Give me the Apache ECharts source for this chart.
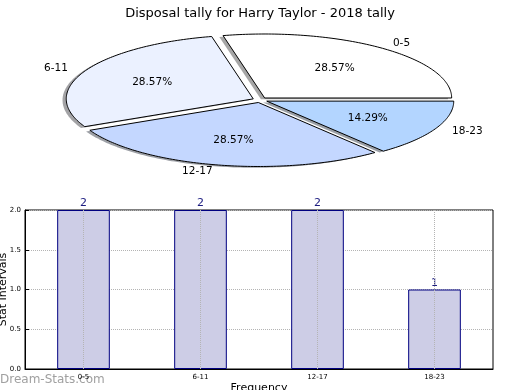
<!DOCTYPE html>
<html>
<head>
<meta charset="utf-8">
<script src="https://cdn.jsdelivr.net/npm/echarts@6/dist/echarts.min.js"></script>
<style>
html,body{margin:0;padding:0;background:#fff;}
#c{width:520px;height:390px;}
</style>
</head>
<body>
<div id="c"></div>
<script>
const titleText = 'Disposal tally for Harry Taylor - 2018 tally';
const categories = ['0-5', '6-11', '12-17', '18-23'];
const pieValues = [2, 2, 2, 1];
const pieColors = ['#ffffff', '#ebf1ff', '#c4d7ff', '#b3d5ff'];
const barValues = [2, 2, 2, 1];
const yAxisName = 'Stat Intervals';
const xAxisName = 'Frequency';
const watermark = 'Dream-Stats.com';

const FONT = 'DejaVu Sans';
const explode = 0.04;
const total = pieValues.reduce((a, b) => a + b, 0);
const startAngles = [];
const endAngles = [];
let acc = 0;
pieValues.forEach(v => {
  startAngles.push(acc / total * 360);
  acc += v;
  endAngles.push(acc / total * 360);
});

function shade(hex) {
  const r = parseInt(hex.slice(1, 3), 16), g = parseInt(hex.slice(3, 5), 16), b = parseInt(hex.slice(5, 7), 16);
  return 'rgba(' + Math.round(r * 0.3) + ',' + Math.round(g * 0.3) + ',' + Math.round(b * 0.3) + ',0.5)';
}

function renderWedge(params, api) {
  const i = params.dataIndex;
  const t1 = startAngles[i], t2 = endAngles[i];
  const mid = (t1 + t2) / 2 * Math.PI / 180;
  const ex = explode * Math.cos(mid), ey = explode * Math.sin(mid);
  const pts = [[ex, ey]];
  const steps = Math.max(4, Math.ceil(t2 - t1));
  for (let k = 0; k <= steps; k++) {
    const a = (t1 + (t2 - t1) * k / steps) * Math.PI / 180;
    pts.push([ex + Math.cos(a), ey + Math.sin(a)]);
  }
  const px = pts.map(p => api.coord(p));
  const spx = pts.map(p => api.coord([p[0] - 0.02, p[1] - 0.02]));
  const outer = api.coord([ex + 1.1 * Math.cos(mid), ey + 1.1 * Math.sin(mid)]);
  const inner = api.coord([ex + 0.6 * Math.cos(mid), ey + 0.6 * Math.sin(mid)]);
  const pct = (pieValues[i] / total * 100).toFixed(2) + '%';
  return {
    type: 'group',
    children: [
      { type: 'polygon', shape: { points: spx }, style: { fill: shade(pieColors[i]) }, z2: 0 },
      { type: 'polygon', shape: { points: px }, style: { fill: pieColors[i], stroke: '#000', lineWidth: 1 }, z2: 10 },
      { type: 'text', x: outer[0], y: outer[1], z2: 20,
        style: { text: categories[i], fill: '#000', fontSize: 10.5, fontFamily: FONT,
                 align: Math.cos(mid) > 0 ? 'left' : 'right', verticalAlign: 'middle' } },
      { type: 'text', x: inner[0], y: inner[1], z2: 20,
        style: { text: pct, fill: '#000', fontSize: 10.5, fontFamily: FONT, align: 'center', verticalAlign: 'middle' } }
    ]
  };
}

const chart = echarts.init(document.getElementById('c'), null, { renderer: 'canvas' });
chart.setOption({
  animation: false,
  backgroundColor: '#fff',
  textStyle: { fontFamily: FONT },
  title: {
    text: titleText, left: 'center', top: 2,
    textStyle: { fontSize: 13, fontWeight: 'normal', color: '#000', fontFamily: FONT }
  },
  graphic: [{
    type: 'text', left: 0, top: 374,
    style: { text: watermark, fill: '#a0a0a0', fontSize: 12, fontFamily: FONT }
  }],
  grid: [
    { left: 16.9, top: 16.8, width: 486.2, height: 166.4, show: false, outerBoundsMode: 'none', containLabel: false },
    { left: 25, top: 210, width: 468, height: 159, show: true, borderColor: '#000', borderWidth: 1,
      backgroundColor: 'transparent', outerBoundsMode: 'none', containLabel: false }
  ],
  xAxis: [
    { gridIndex: 0, type: 'value', min: -1.3, max: 1.3, show: false },
    { gridIndex: 1, type: 'category', data: categories,
      name: xAxisName, nameLocation: 'middle', nameGap: 14, nameMoveOverlap: false,
      nameTextStyle: { fontSize: 11, color: '#000', fontFamily: FONT },
      axisLine: { lineStyle: { color: '#000', width: 1 } },
      axisTick: { inside: true, alignWithLabel: true, length: 4, lineStyle: { color: '#000' } },
      axisLabel: { fontSize: 7, color: '#000', margin: 5, fontFamily: FONT },
      splitLine: { show: false } }
  ],
  yAxis: [
    { gridIndex: 0, type: 'value', min: -1.3, max: 1.3, show: false },
    { gridIndex: 1, type: 'value', min: 0, max: 2, interval: 0.5,
      name: yAxisName, nameLocation: 'middle', nameGap: 16, nameRotate: 90, nameMoveOverlap: false,
      nameTextStyle: { fontSize: 11, color: '#000', fontFamily: FONT },
      axisLine: { show: true, lineStyle: { color: '#000', width: 1 } },
      axisTick: { show: true, inside: true, length: 4, lineStyle: { color: '#000' } },
      axisLabel: { fontSize: 7, color: '#000', margin: 4, fontFamily: FONT, formatter: v => v.toFixed(1) },
      splitLine: { show: true, lineStyle: { type: 'dotted', color: '#b4b4b4', width: 1 } } }
  ],
  series: [
    { type: 'custom', xAxisIndex: 0, yAxisIndex: 0, renderItem: renderWedge,
      data: pieValues.map((v, i) => [i, v]), silent: true },
    { type: 'bar', xAxisIndex: 1, yAxisIndex: 1, data: barValues, barWidth: '45%',
      itemStyle: { color: '#cdcde6', borderColor: '#000080', borderWidth: 1 },
      label: { show: true, position: 'top', distance: 1, color: '#1c1c80', fontSize: 11, fontFamily: FONT },
      markLine: { silent: true, symbol: ['none', 'none'], label: { show: false },
        lineStyle: { type: 'dotted', color: '#b4b4b4', width: 1 },
        data: categories.map(c => ({ xAxis: c })) } }
  ]
});
</script>
</body>
</html>
